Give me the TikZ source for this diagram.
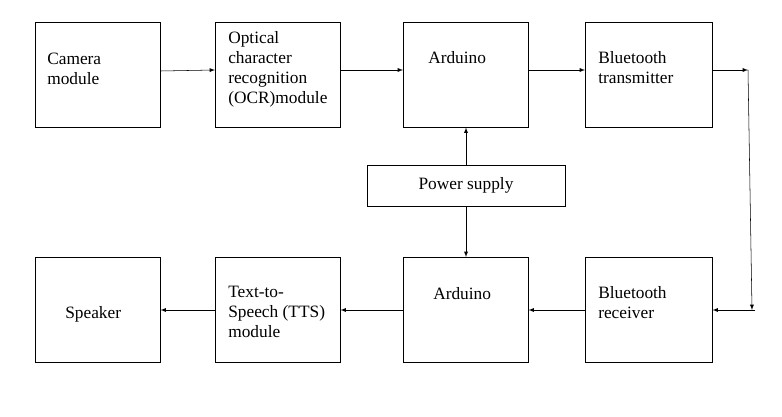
\documentclass[tikz,border=0pt]{standalone}
\usepackage{fontspec}
\setmainfont{Liberation Serif}
\usetikzlibrary{positioning}
\tikzset{
  blk/.style={draw, minimum width=93.75pt, minimum height=78.75pt, anchor=north west, inner sep=0pt},
  lbl/.style={anchor=north west, align=left, inner sep=0pt, font=\fontsize{13}{15}\selectfont},
  arr/.style={-latex}
}
\begin{document}
\begin{tikzpicture}[x=0.75pt,y=-0.75pt]
        \useasboundingbox (0,0) rectangle (782,417);

        % Top row
        \node[blk] (cam) at (35,22) {};
        \node[blk] (ocr) at (215,22) {};
        \node[blk] (ard1) at (403,22) {};
        \node[blk, minimum width=95.25pt] (btt) at (585,22) {};

        % Bottom row
        \node[blk] (spk) at (35,257) {};
        \node[blk] (tts) at (215,257) {};
        \node[blk] (ard2) at (403,257) {};
        \node[blk, minimum width=95.25pt] (btr) at (585,257) {};

        % Power supply
        \node[draw, minimum width=148.5pt, minimum height=30.75pt, font=\fontsize{13}{15}\selectfont] (pwr) at (466,185.5) {Power supply};

        % Labels
        \node[lbl] (camt) at (47,53) {Camera\\module};
        \node[lbl] (ocrt) at (228,31) {Optical\\character\\recognition\\(OCR)module};
        \node[lbl] (ard1t) at (428,51) {Arduino};
        \node[lbl] (bttt) at (598,51) {Bluetooth\\transmitter};
        \node[lbl] (spkt) at (65,306) {Speaker};
        \node[lbl] (ttst) at (228,286) {Text-to-\\Speech (TTS)\\module};
        \node[lbl] (ard2t) at (433,287) {Arduino};
        \node[lbl] (btrt) at (598,286) {Bluetooth\\receiver};

        % Connectors
        \draw[arr] (cam.east |- 0,71) -- (ocr.west |- 0,70);
        \draw[arr] (ocr.east |- 0,70) -- (ard1.west |- 0,70);
        \draw[arr] (ard1.east |- 0,70) -- (btt.west |- 0,70);
        \coordinate (c1) at (748,70);
        \coordinate (c2) at (752,310);
        \coordinate (c3) at (755,310);
        \draw[arr] (btt.east |- 0,70) -- (c1);
        \draw[arr] (c1) -- (c2);
        \draw[arr] (c3) -- (btr.east |- 0,310);
        \draw[arr] (btr.west |- 0,310) -- (ard2.east |- 0,310);
        \draw[arr] (ard2.west |- 0,310) -- (tts.east |- 0,310);
        \draw[arr] (tts.west |- 0,310) -- (spk.east |- 0,310);
        \draw[arr] (pwr.north) -- (pwr.north |- ard1.south);
        \draw[arr] (pwr.south) -- (pwr.south |- ard2.north);
\end{tikzpicture}
\end{document}
